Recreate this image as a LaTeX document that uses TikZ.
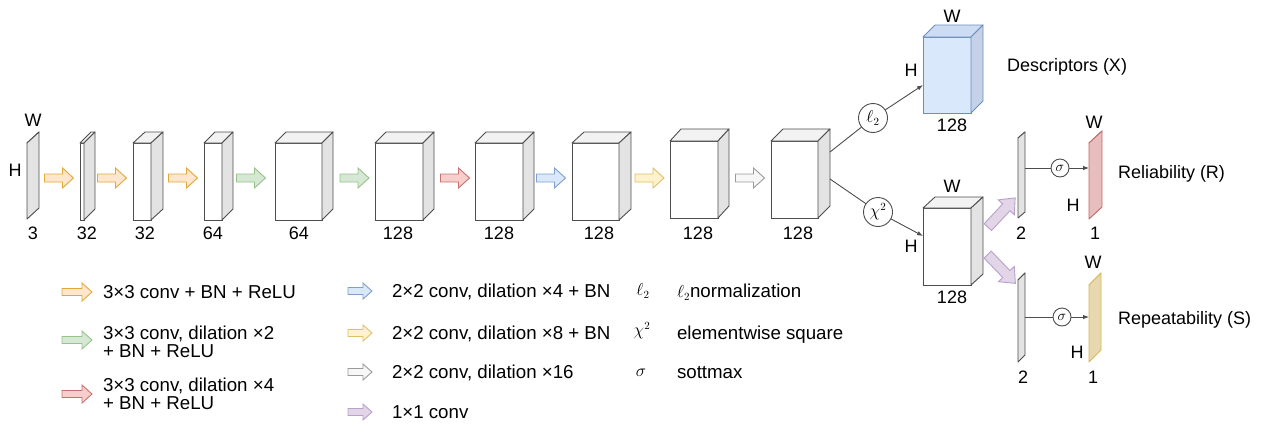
\documentclass[tikz,border=0pt]{standalone}
\usepackage{fontspec}
\setmainfont{Liberation Sans}
\usetikzlibrary{arrows.meta,calc}
\definecolor{edgegray}{HTML}{4D4D4D}
\definecolor{topgray}{HTML}{F2F2F2}
\definecolor{sidegray}{HTML}{E3E3E3}
\definecolor{orfill}{HTML}{FFE6CC}\definecolor{ordraw}{HTML}{E0A93A}
\definecolor{grfill}{HTML}{D5E8D4}\definecolor{grdraw}{HTML}{97C28A}
\definecolor{rdfill}{HTML}{F8CECC}\definecolor{rddraw}{HTML}{C8716E}
\definecolor{blfill}{HTML}{DAE8FC}\definecolor{bldraw}{HTML}{7F9FCC}
\definecolor{ylfill}{HTML}{FFF2CC}\definecolor{yldraw}{HTML}{DCC06A}
\definecolor{wtfill}{HTML}{F7F7F7}\definecolor{wtdraw}{HTML}{9A9A9A}
\definecolor{pufill}{HTML}{E1D5E7}\definecolor{pudraw}{HTML}{B9A1C9}
\definecolor{bfront}{HTML}{DAE8FC}\definecolor{btop}{HTML}{CDDCF2}\definecolor{bside}{HTML}{C4D1E6}\definecolor{bedge}{HTML}{6C8EBF}
\definecolor{relfill}{HTML}{E8BDBD}\definecolor{reledge}{HTML}{C06A67}
\definecolor{repfill}{HTML}{E8D8B0}\definecolor{repedge}{HTML}{D6B656}
\newcommand\cube[8]{%
  \node[#8front, minimum width=#4pt, minimum height=#5pt, anchor=north west] (#1) at (#2,#3) {};
  \path[#8top] (#1.north west) -- ++(#6,-#7) -- ++(#4,0) -- (#1.north east) -- cycle;
  \path[#8side] (#1.north east) -- ++(#6,-#7) -- ++(0,#5) -- (#1.south east) -- cycle;
}
\newcommand\barrow[8]{%
  \path[#8arr, shift={(#1,#2)}, rotate=#4] (-#3/2,-#5) -- (#3/2-#7,-#5) -- (#3/2-#7,-#6) -- (#3/2,0) -- (#3/2-#7,#6) -- (#3/2-#7,#5) -- (-#3/2,#5) -- cycle;
}
\begin{document}
\begin{tikzpicture}[x=1pt,y=-1pt,
  every node/.style={inner sep=0pt, outer sep=0pt},
  grayfront/.style={draw=edgegray, fill=white, line width=0.9pt},
  graytop/.style={draw=edgegray, fill=topgray, line width=0.9pt, line join=round},
  grayside/.style={draw=edgegray, fill=sidegray, line width=0.9pt, line join=round},
  bluefront/.style={draw=bedge, fill=bfront, line width=0.9pt},
  bluetop/.style={draw=bedge, fill=btop, line width=0.9pt, line join=round},
  blueside/.style={draw=bedge, fill=bside, line width=0.9pt, line join=round},
  redfront/.style={draw=reledge, fill=relfill, line width=0.9pt},
  redtop/.style={draw=reledge, fill=relfill, line width=0.9pt, line join=round},
  redside/.style={draw=reledge, fill=relfill, line width=0.9pt, line join=round},
  yellowfront/.style={draw=repedge, fill=repfill, line width=0.9pt},
  yellowtop/.style={draw=repedge, fill=repfill, line width=0.9pt, line join=round},
  yellowside/.style={draw=repedge, fill=repfill, line width=0.9pt, line join=round},
  orarr/.style={draw=ordraw, fill=orfill, line width=0.9pt},
  grarr/.style={draw=grdraw, fill=grfill, line width=0.9pt},
  rdarr/.style={draw=rddraw, fill=rdfill, line width=0.9pt},
  blarr/.style={draw=bldraw, fill=blfill, line width=0.9pt},
  ylarr/.style={draw=yldraw, fill=ylfill, line width=0.9pt},
  wtarr/.style={draw=wtdraw, fill=wtfill, line width=0.9pt},
  puarr/.style={draw=pudraw, fill=pufill, line width=0.9pt},
  txt/.style={anchor=base, yshift=-6.5pt, font=\fontsize{18}{18}\selectfont},
  ltxt/.style={anchor=base west, yshift=-6.5pt, font=\fontsize{18}{18}\selectfont},
  legtxt/.style={anchor=base west, yshift=-6.7pt, font=\fontsize{18.7}{18}\selectfont},
  opc/.style={circle, draw=edgegray, fill=white, line width=0.9pt, minimum size=29pt, font=\fontsize{16}{16}\selectfont},
  sigc/.style={circle, draw=edgegray, fill=white, line width=0.9pt, minimum size=18pt, font=\fontsize{14}{14}\selectfont},
  conn/.style={draw=edgegray, line width=0.9pt},
  tip/.style={conn, -{Latex[length=6pt,width=4.5pt]}}
]
\useasboundingbox (0,0) rectangle (1262,424);

% backbone blocks
\cube{b1}{27}{143}{0}{76}{12}{11}{gray}
\cube{b2}{80}{143}{4}{77}{11}{11}{gray}
\cube{b3}{133}{143}{18}{77}{12}{11}{gray}
\cube{b4}{204}{143}{18}{77}{11}{11}{gray}
\cube{b5}{275}{143}{47}{77}{11}{11}{gray}
\cube{b6}{375}{143}{48}{77}{11}{11}{gray}
\cube{b7}{475}{143}{48}{77}{11}{11}{gray}
\cube{b8}{572}{143}{47}{77}{12}{11}{gray}
\cube{b9}{670}{141}{48}{77}{11}{12}{gray}
\cube{b10}{771}{141}{47}{77}{12}{12}{gray}

% heads
\cube{desc}{923}{37}{48}{76}{12}{12}{blue}
\cube{sq}{923}{208}{48}{77}{12}{11}{gray}
\cube{r2}{1018}{138}{0}{80}{7}{6}{gray}
\cube{rel}{1089}{143}{0}{76}{13}{12}{red}
\cube{s2}{1018}{280}{0}{82}{7}{7}{gray}
\cube{rep}{1089}{285}{0}{77}{12}{12}{yellow}

% block arrows backbone
\barrow{59}{178}{29}{0}{4}{10}{11}{or}
\barrow{112}{178}{29}{0}{4}{10}{11}{or}
\barrow{183}{178}{29}{0}{4}{10}{11}{or}
\barrow{251}{178}{29}{0}{4}{10}{11}{gr}
\barrow{354.5}{178}{29}{0}{4}{10}{11}{gr}
\barrow{455}{178}{29}{0}{4}{10}{11}{rd}
\barrow{551}{178}{29}{0}{4}{10}{11}{bl}
\barrow{649.5}{178}{29}{0}{4}{10}{11}{yl}
\barrow{750}{178}{29}{0}{4}{10}{11}{wt}
% purple 1x1 conv arrows
\barrow{1001.5}{212.5}{40}{47}{5}{11}{13}{pu}
\barrow{1001.5}{269}{40}{-46}{5}{11}{13}{pu}

% operation circles and connectors
\node[opc] (l2) at (873,118) {$\ell_2$};
\node[opc] (chi) at (878,212) {$\chi^2$};
\node[sigc] (sg1) at (1060,168) {$\sigma$};
\node[sigc] (sg2) at (1062,317) {$\sigma$};
\coordinate (o1) at (830,152);
\coordinate (o2) at (830,179);
\coordinate (dt) at (923,85);
\coordinate (st) at (923,236);
\coordinate (r2o) at (1025,168);
\coordinate (relin) at (1089,168);
\coordinate (s2o) at (1025,317);
\coordinate (repin) at (1089,317);
\draw[conn] (o1) -- (l2);
\draw[tip] (l2) -- (dt);
\draw[conn] (o2) -- (chi);
\draw[tip] (chi) -- (st);
\draw[conn] (r2o) -- (sg1);
\draw[tip] (sg1) -- (relin);
\draw[conn] (s2o) -- (sg2);
\draw[tip] (sg2) -- (repin);

% block labels
\node[txt] (tW1) at (33,120) {W};
\node[txt] (tH1) at (15,170) {H};
\node[txt] (n1) at (33,233) {3};
\node[txt] (n2) at (87,233) {32};
\node[txt] (n3) at (145,233) {32};
\node[txt] (n4) at (213,233) {64};
\node[txt] (n5) at (299,233) {64};
\node[txt] (n6) at (398,233) {128};
\node[txt] (n7) at (499,233) {128};
\node[txt] (n8) at (599,233) {128};
\node[txt] (n9) at (698,233) {128};
\node[txt] (n10) at (798,233) {128};

\node[txt] (dW) at (952,16) {W};
\node[txt] (dH) at (911,70) {H};
\node[txt] (dn) at (952,125) {128};
\node[ltxt] (dname) at (1007,65) {Descriptors (X)};

\node[txt] (qW) at (952,186) {W};
\node[txt] (qH) at (911,246) {H};
\node[txt] (qn) at (952,297) {128};

\node[txt] (r2n) at (1021,233) {2};
\node[txt] (relW) at (1094,122) {W};
\node[txt] (relH) at (1073,205) {H};
\node[txt] (reln) at (1095,233) {1};
\node[ltxt] (relname) at (1118,172) {Reliability (R)};

\node[txt] (s2n) at (1023,377) {2};
\node[txt] (repW) at (1093,262) {W};
\node[txt] (repH) at (1077,352) {H};
\node[txt] (repn) at (1093,377) {1};
\node[ltxt] (repname) at (1118,318) {Repeatability (S)};

% legend column 1
\barrow{77}{292}{30}{0}{3.5}{9}{10}{or}
\barrow{77}{340}{30}{0}{3.5}{9}{10}{gr}
\barrow{77}{394}{30}{0}{3.5}{9}{10}{rd}
\node[legtxt] (lg1) at (103,292) {3×3 conv + BN + ReLU};
\node[legtxt] (lg2a) at (103,333) {3×3 conv, dilation ×2};
\node[legtxt] (lg2b) at (103,350.5) {+ BN + ReLU};
\node[legtxt] (lg3a) at (103,385) {3×3 conv, dilation ×4};
\node[legtxt] (lg3b) at (103,402.5) {+ BN + ReLU};

% legend column 2
\barrow{360}{291}{24}{0}{3.5}{8}{9}{bl}
\barrow{360}{333}{24}{0}{3.5}{8}{9}{yl}
\barrow{360}{372}{24}{0}{3.5}{8}{9}{wt}
\barrow{360}{412}{24}{0}{3.5}{8}{9}{pu}
\node[legtxt] (lg4) at (392,291) {2×2 conv, dilation ×4 + BN};
\node[legtxt] (lg5) at (392,333) {2×2 conv, dilation ×8 + BN};
\node[legtxt] (lg6) at (392,372) {2×2 conv, dilation ×16};
\node[legtxt] (lg7) at (392,412) {1×1 conv};

% legend column 3
\node[font=\fontsize{16}{16}\selectfont] (sy1) at (643,291) {$\ell_2$};
\node[font=\fontsize{16}{16}\selectfont] (sy2) at (642,331) {$\chi^2$};
\node[font=\fontsize{16}{16}\selectfont] (sy3) at (641,373) {$\sigma$};
\node[legtxt] (ds1) at (677,291) {\fontsize{16}{16}\selectfont$\ell_2$\fontsize{18.7}{18}\selectfont normalization};
\node[legtxt] (ds2) at (677,333) {elementwise square};
\node[legtxt] (ds3) at (677,372) {sottmax};
\end{tikzpicture}
\end{document}
